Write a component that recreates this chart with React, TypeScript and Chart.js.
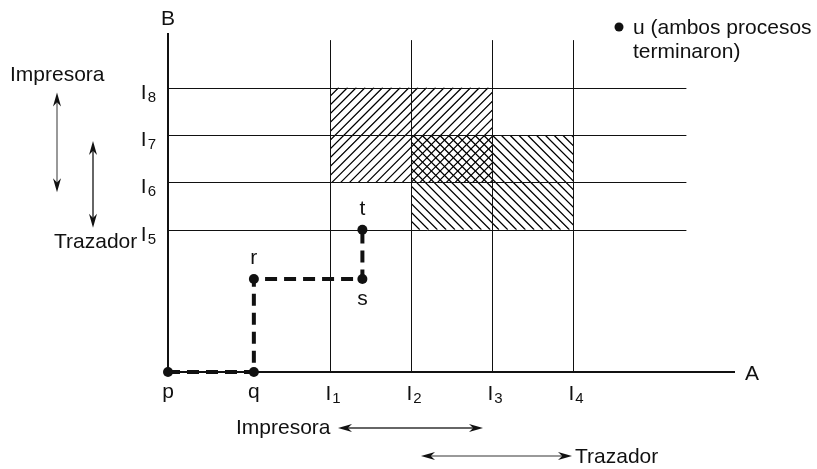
import { useEffect, useRef } from 'react';
import { Chart, registerables } from 'chart.js';

Chart.register(...registerables);

// ---- data ----
const xMarks = [4, 6, 8, 10];            // I1..I4 on axis A
const xMarkSubs = ['1', '2', '3', '4'];
const yMarks = [3, 4, 5, 6];             // I5..I8 on axis B
const yMarkSubs = ['5', '6', '7', '8'];
const pathX = [0, 2.12, 2.12, 4.8, 4.8];
const pathY = [0, 0, 1.96, 1.96, 3];
const pathLabels = ['p', 'q', 'r', 's', 't'];
const pathLabelSide = ['below', 'below', 'above', 'below', 'above'];
const printerA = [4, 8];
const printerB = [4, 6];
const plotterA = [6, 10];
const plotterB = [3, 5];
const xMax = 14;
const yMax = 7.15;
const gridXEnd = 12.8;
const gridYEnd = 7.0;

const FONT = '"Liberation Sans", Arial, Helvetica, sans-serif';
const FS = 21;
const INK = '#111';

function arrowHead(ctx: CanvasRenderingContext2D, x: number, y: number, dx: number, dy: number) {
  const len = 14, hw = 4;
  const px = -dy, py = dx;
  ctx.beginPath();
  ctx.moveTo(x, y);
  ctx.lineTo(x - dx * len + px * hw, y - dy * len + py * hw);
  ctx.lineTo(x - dx * len * 0.7, y - dy * len * 0.7);
  ctx.lineTo(x - dx * len - px * hw, y - dy * len - py * hw);
  ctx.closePath();
  ctx.fill();
}

function dblArrow(ctx: CanvasRenderingContext2D, x1: number, y1: number, x2: number, y2: number, color: string) {
  const L = Math.hypot(x2 - x1, y2 - y1);
  const dx = (x2 - x1) / L, dy = (y2 - y1) / L;
  ctx.save();
  ctx.strokeStyle = color;
  ctx.fillStyle = INK;
  ctx.lineWidth = 1.5;
  ctx.beginPath();
  ctx.moveTo(x1 + dx * 8, y1 + dy * 8);
  ctx.lineTo(x2 - dx * 8, y2 - dy * 8);
  ctx.stroke();
  arrowHead(ctx, x2, y2, dx, dy);
  arrowHead(ctx, x1, y1, -dx, -dy);
  ctx.restore();
}

function subLabel(ctx: CanvasRenderingContext2D, base: string, sub: string, x: number, y: number, align: 'center' | 'right') {
  ctx.save();
  ctx.fillStyle = INK;
  ctx.textAlign = 'left';
  ctx.textBaseline = 'alphabetic';
  ctx.font = `${FS}px ${FONT}`;
  const wb = ctx.measureText(base).width;
  ctx.font = `15px ${FONT}`;
  const ws = ctx.measureText(sub).width;
  const total = wb + 1 + ws;
  const left = align === 'center' ? x - total / 2 : x - total;
  ctx.font = `${FS}px ${FONT}`;
  ctx.fillText(base, left, y);
  ctx.font = `15px ${FONT}`;
  ctx.fillText(sub, left + wb + 1, y + 3);
  ctx.restore();
}

function hatch(ctx: CanvasRenderingContext2D, l: number, t: number, r: number, b: number, dir: 1 | -1) {
  const step = 8.8;
  ctx.save();
  ctx.beginPath();
  ctx.rect(l, t, r - l, b - t);
  ctx.clip();
  ctx.strokeStyle = '#000';
  ctx.lineWidth = 1.25;
  const h = b - t;
  ctx.beginPath();
  for (let c = l - h - step; c < r + h + step; c += step) {
    if (dir === 1) {
      ctx.moveTo(c, b);
      ctx.lineTo(c + h, t);
    } else {
      ctx.moveTo(c, t);
      ctx.lineTo(c + h, b);
    }
  }
  ctx.stroke();
  ctx.restore();
}

const diagramPlugin = {
  id: 'diagram',
  beforeDatasetsDraw(chart: any) {
    const ctx: CanvasRenderingContext2D = chart.ctx;
    const xs = chart.scales.x, ys = chart.scales.y;
    const X = (v: number) => xs.getPixelForValue(v);
    const Y = (v: number) => ys.getPixelForValue(v);

    hatch(ctx, X(printerA[0]), Y(printerB[1]), X(printerA[1]), Y(printerB[0]), 1);
    hatch(ctx, X(plotterA[0]), Y(plotterB[1]), X(plotterA[1]), Y(plotterB[0]), -1);

    ctx.save();
    ctx.strokeStyle = INK;
    ctx.lineWidth = 1;
    ctx.beginPath();
    yMarks.forEach((m) => {
      const y = Math.round(Y(m)) + 0.5;
      ctx.moveTo(X(0), y);
      ctx.lineTo(X(gridXEnd), y);
    });
    xMarks.forEach((m) => {
      const x = Math.round(X(m)) + 0.5;
      ctx.moveTo(x, Y(0));
      ctx.lineTo(x, Y(gridYEnd));
    });
    ctx.stroke();

    ctx.lineWidth = 2;
    ctx.beginPath();
    ctx.moveTo(X(0), Y(0));
    ctx.lineTo(X(0), Y(yMax));
    ctx.moveTo(X(0), Y(0));
    ctx.lineTo(X(xMax), Y(0));
    ctx.stroke();
    ctx.restore();
  },
  afterDatasetsDraw(chart: any) {
    const ctx: CanvasRenderingContext2D = chart.ctx;
    const xs = chart.scales.x, ys = chart.scales.y;
    const X = (v: number) => xs.getPixelForValue(v);
    const Y = (v: number) => ys.getPixelForValue(v);

    ctx.save();
    ctx.fillStyle = INK;
    ctx.font = `${FS}px ${FONT}`;
    ctx.textBaseline = 'alphabetic';
    ctx.textAlign = 'center';
    ctx.fillText('B', X(0), Y(yMax) - 8);
    ctx.textAlign = 'left';
    ctx.fillText('A', X(xMax) + 10, Y(0) + 8);

    ctx.textAlign = 'center';
    pathLabels.forEach((lab, i) => {
      const px = X(pathX[i]), py = Y(pathY[i]);
      const yy = pathLabelSide[i] === 'above' ? py - 15 : py + 26;
      ctx.fillText(lab, px, yy);
    });
    ctx.restore();

    xMarks.forEach((m, i) => subLabel(ctx, 'I', xMarkSubs[i], X(m) + 3, Y(0) + 28, 'center'));
    yMarks.forEach((m, i) => subLabel(ctx, 'I', yMarkSubs[i], X(0) - 12, Y(m) + 11, 'right'));

    dblArrow(ctx, 57, Y(printerB[1]) + 5, 57, Y(printerB[0]) + 10, '#777');
    dblArrow(ctx, 93, Y(plotterB[1]) + 6, 93, Y(plotterB[0]) - 2, '#333');
    dblArrow(ctx, X(printerA[0]) + 8, 428, X(printerA[1]) - 9, 428, '#333');
    dblArrow(ctx, X(plotterA[0]) + 10, 456, X(plotterA[1]) - 1, 456, '#777');

    ctx.save();
    ctx.fillStyle = INK;
    ctx.font = `${FS}px ${FONT}`;
    ctx.textAlign = 'left';
    ctx.textBaseline = 'alphabetic';
    ctx.fillText('Impresora', 10, 81);
    ctx.fillText('Trazador', 54, 248);
    ctx.fillText('Impresora', 236, 434);
    ctx.fillText('Trazador', 575, 463);

    ctx.beginPath();
    ctx.arc(619, 27, 4.5, 0, Math.PI * 2);
    ctx.fill();
    ctx.fillText('u (ambos procesos', 633, 34);
    ctx.fillText('terminaron)', 633, 58);
    ctx.restore();
  },
};

export default function App() {
  const ref = useRef<HTMLCanvasElement | null>(null);
  useEffect(() => {
    if (!ref.current) return;
    const chart = new Chart(ref.current, {
      type: 'scatter',
      data: {
        datasets: [
          {
            data: pathX.map((x, i) => ({ x, y: pathY[i] })),
            showLine: true,
            borderColor: INK,
            borderWidth: 4,
            borderDash: [12, 7],
            pointRadius: 5,
            pointBackgroundColor: INK,
            pointBorderColor: INK,
            pointBorderWidth: 0,
            clip: false as any,
          } as any,
        ],
      },
      options: {
        animation: false,
        responsive: false,
        devicePixelRatio: 1,
        layout: { padding: { left: 168, right: 82, top: 33, bottom: 97 } },
        scales: {
          x: { type: 'linear', min: 0, max: xMax, display: false },
          y: { type: 'linear', min: 0, max: yMax, display: false },
        },
        plugins: { legend: { display: false }, tooltip: { enabled: false } },
        events: [],
      },
      plugins: [diagramPlugin],
    });
    return () => chart.destroy();
  }, []);
  return (
    <div style={{ position: 'fixed', left: 0, top: 0, width: 817, height: 469, background: '#fff' }}>
      <canvas ref={ref} width={817} height={469} style={{ display: 'block' }} />
    </div>
  );
}
